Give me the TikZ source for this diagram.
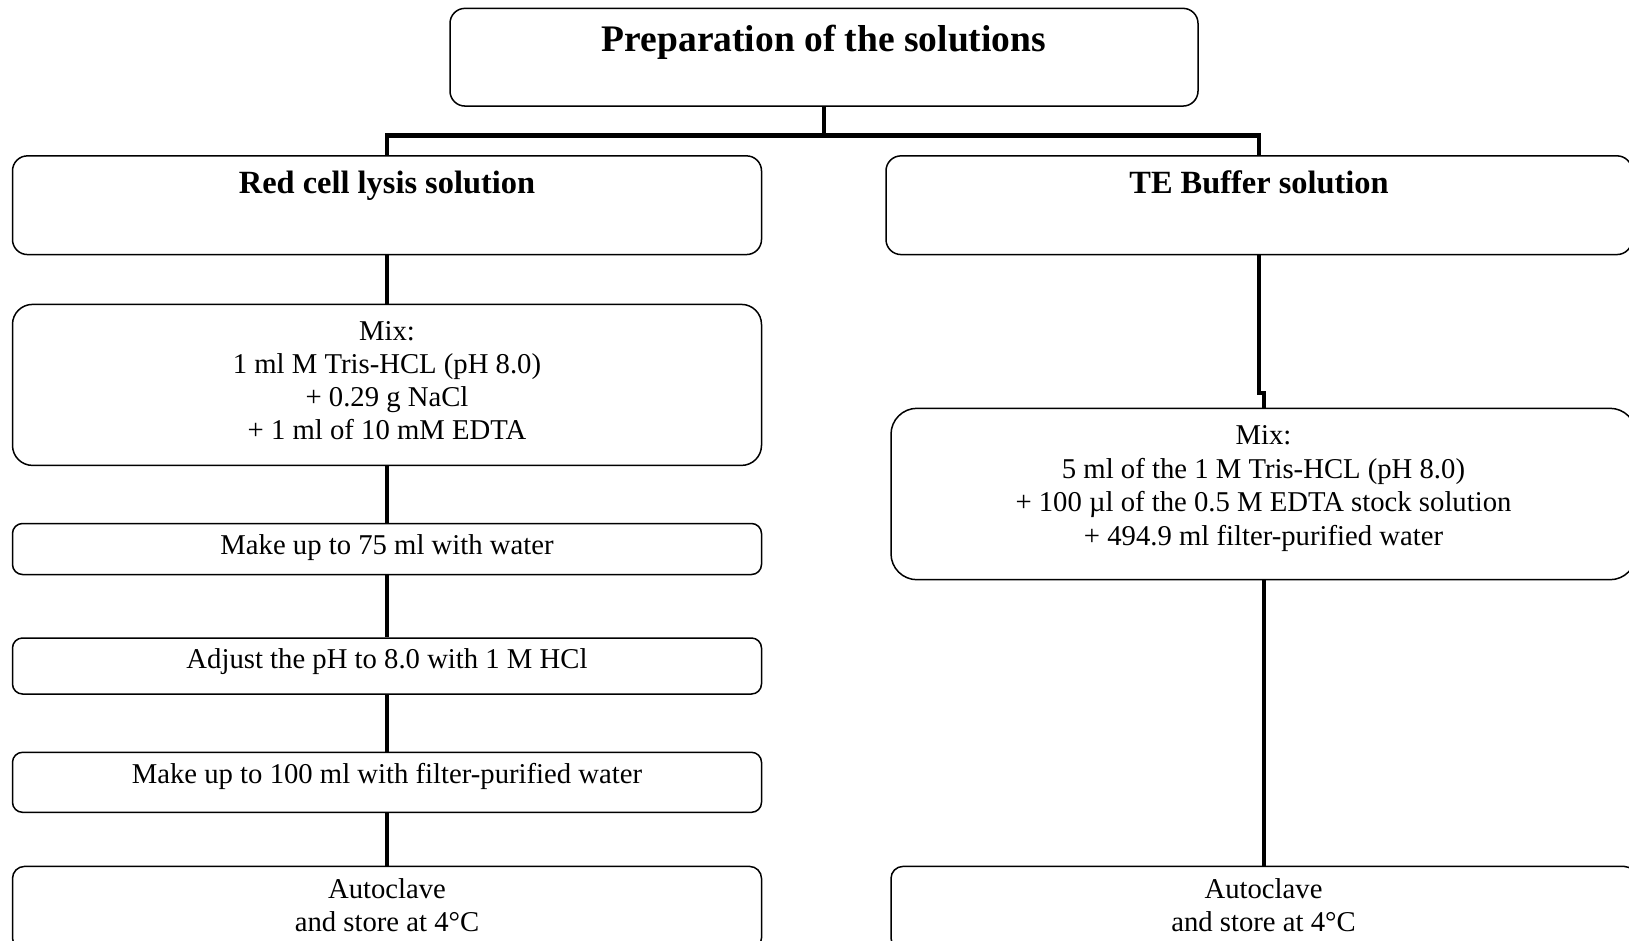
\documentclass[tikz,border=0pt]{standalone}
\usepackage{fontspec}
\setmainfont{Liberation Serif}
\begin{document}
\begin{tikzpicture}[x=1pt,y=-1pt,
  box/.style={draw, line width=1.5pt, rounded corners=#1, inner sep=0pt, anchor=center},
  box/.default=15pt,
  conn/.style={line width=4pt},
  txt/.style={anchor=base, inner sep=0pt, font=\fontsize{28.7}{33}\selectfont},
  sub/.style={anchor=base, inner sep=0pt, font=\fontsize{32.4}{38}\selectfont\bfseries},
  ttl/.style={anchor=base, inner sep=0pt, font=\fontsize{37.5}{44}\selectfont\bfseries}]
\useasboundingbox (0,0) rectangle (1629,940);

% boxes
\node[box, minimum width=748pt, minimum height=97.7pt] (top) at (824,57.2) {};
\node[box, minimum width=749pt, minimum height=98.7pt] (red) at (387,205.2) {};
\node[box, minimum width=746pt, minimum height=98.7pt] (te) at (1259,205.2) {};
\node[box=20pt, minimum width=749pt, minimum height=161pt] (rmix) at (387,384.9) {};
\node[box=10pt, minimum width=749pt, minimum height=51pt] (m75) at (387,549) {};
\node[box=10pt, minimum width=749pt, minimum height=56pt] (adj) at (387,666) {};
\node[box=10pt, minimum width=749pt, minimum height=60pt] (m100) at (387,782.3) {};
\node[box=12pt, minimum width=749pt, minimum height=83.6pt] (autoL) at (387,908.2) {};
\node[box=26pt, minimum width=745pt, minimum height=171.4pt] (temix) at (1263.5,494) {};
\node[box=12pt, minimum width=745pt, minimum height=83.6pt] (autoR) at (1263.5,908.2) {};

% texts
\node[ttl] (tTop) at (824,51) {Preparation of the solutions};
\node[sub] (tRed) at (387,193.5) {Red cell lysis solution};
\node[sub] (tTe) at (1259,193.5) {TE Buffer solution};

\node[txt] (rm1) at (387,340) {Mix:};
\node[txt] (rm2) at (387,373.2) {1 ml M Tris-HCL (pH 8.0)};
\node[txt] (rm3) at (387,406.4) {+ 0.29 g NaCl};
\node[txt] (rm4) at (387,439.6) {+ 1 ml of 10 mM EDTA};
\node[txt] (t75) at (387,554) {Make up to 75 ml with water};
\node[txt] (tadj) at (387,668.2) {Adjust the pH to 8.0 with 1 M HCl};
\node[txt] (t100) at (387,783.5) {Make up to 100 ml with filter-purified water};
\node[txt] (al1) at (387,898.8) {Autoclave};
\node[txt] (al2) at (387,931) {and store at 4°C};

\node[txt] (tm1) at (1263.5,444.8) {Mix:};
\node[txt] (tm2) at (1263.5,478.2) {5 ml of the 1 M Tris-HCL (pH 8.0)};
\node[txt] (tm3) at (1263.5,511.6) {+ 100 µl of the 0.5 M EDTA stock solution};
\node[txt] (tm4) at (1263.5,545) {+ 494.9 ml filter-purified water};
\node[txt] (ar1) at (1263.5,898.8) {Autoclave};
\node[txt] (ar2) at (1263.5,931) {and store at 4°C};

% connectors
\coordinate (jL) at (red.north |- 0,135);
\coordinate (jR) at (te.north |- 0,135);
\coordinate (jC) at (top.south |- 0,135);
\draw[conn] (top.south) -- (jC);
\draw[line width=5pt] ([xshift=-2pt]jL) -- ([xshift=2pt]jR);
\draw[conn] (jL) -- (red.north);
\draw[conn] (jR) -- (te.north);
\draw[conn] (red.south) -- (rmix.north);
\draw[conn] (rmix.south) -- (m75.north);
\draw[conn] (m75.south) -- (adj.north);
\draw[conn] (adj.south) -- (m100.north);
\draw[conn] (m100.south) -- (autoL.north);
\coordinate (jog) at (te.south |- 0,393);
\draw[conn] (te.south) -- (jog) -| (temix.north);
\draw[conn] (temix.south) -- (autoR.north);
\end{tikzpicture}
\end{document}
